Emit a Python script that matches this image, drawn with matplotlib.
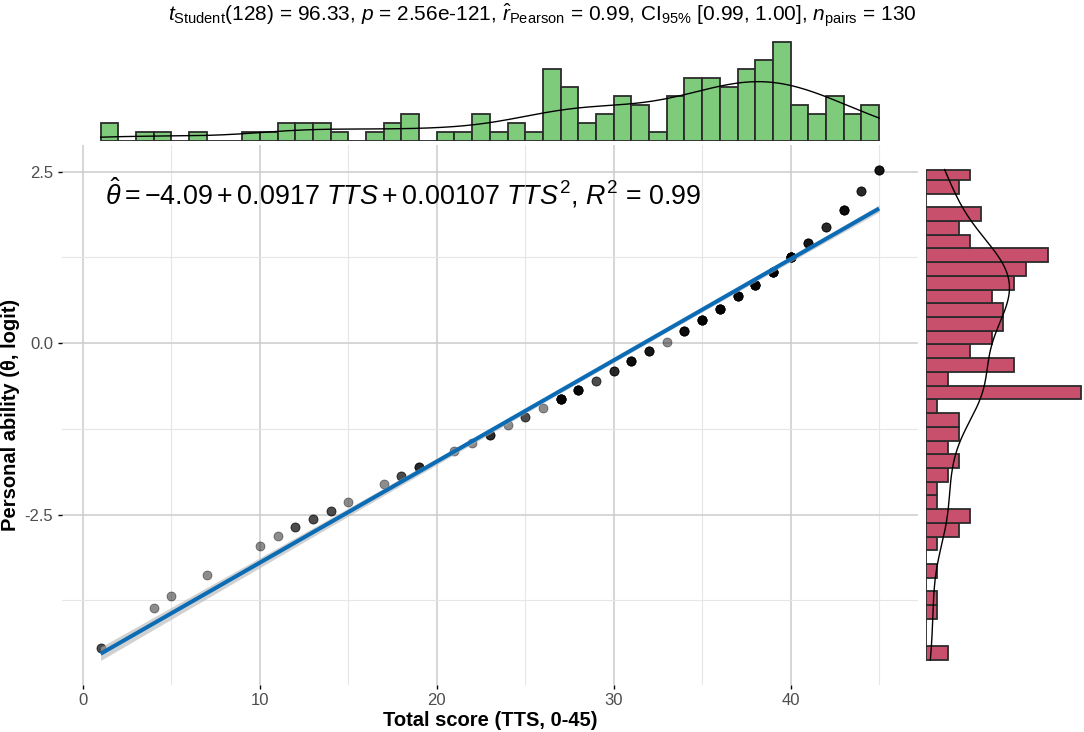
import numpy as np
import matplotlib
matplotlib.use('Agg')
import matplotlib.pyplot as plt

# total score, estimated person ability and number of persons with that score
tts_scores = [1, 4, 5, 7, 10, 11, 12, 13, 14, 15, 17, 18, 19, 21, 22, 23, 24, 25, 26,
              27, 28, 29, 30, 31, 32, 33, 34, 35, 36, 37, 38, 39, 40, 41, 42, 43, 44, 45]
theta_est = [-4.45, -3.86, -3.69, -3.38, -2.95, -2.81, -2.68, -2.56, -2.45, -2.31,
             -2.06, -1.93, -1.81, -1.57, -1.45, -1.34, -1.20, -1.08, -0.95,
             -0.81, -0.69, -0.55, -0.41, -0.26, -0.12, 0.02, 0.17, 0.34, 0.50,
             0.68, 0.85, 1.04, 1.25, 1.46, 1.69, 1.94, 2.22, 2.53]
n_people = [2, 1, 1, 1, 1, 1, 2, 2, 2, 1, 1, 2, 3, 1, 1, 3, 1, 2, 1,
            8, 6, 2, 3, 5, 4, 1, 5, 7, 7, 6, 8, 9, 11, 4, 3, 5, 3, 4]

title_txt = (r"$t_{\mathrm{Student}}$(128) = 96.33, $p$ = 2.56e-121, "
             r"$\hat{r}_{\mathrm{Pearson}}$ = 0.99, CI$_{\mathrm{95\%}}$ [0.99, 1.00], "
             r"$n_{\mathrm{pairs}}$ = 130")
eq_txt = (r"$\hat{\theta} = -4.09 + 0.0917\ TTS + 0.00107\ TTS^{2}$, $R^{2}$ = 0.99")

x_binwidth = 1.0
y_binwidth = 0.2
y_bin_start = -4.62

plt.rcParams['font.family'] = ['Liberation Sans', 'DejaVu Sans']
plt.rcParams['mathtext.fontset'] = 'custom'
plt.rcParams['mathtext.rm'] = 'Liberation Sans'
plt.rcParams['mathtext.it'] = 'Liberation Sans:italic'
plt.rcParams['mathtext.bf'] = 'Liberation Sans:bold'
plt.rcParams['axes.unicode_minus'] = False

GREEN = '#7fcb7c'
RED = '#c9506c'
EDGE = '#2b2b2b'


def kde(values, grid):
    # gaussian density with R's bw.nrd0
    n = len(values)
    sd = values.std(ddof=1)
    q75, q25 = np.percentile(values, [75, 25])
    bw = 0.9 * min(sd, (q75 - q25) / 1.34) * n ** -0.2
    z = (grid[:, None] - values[None, :]) / bw
    return np.exp(-0.5 * z ** 2).sum(axis=1) / (n * bw * np.sqrt(2 * np.pi))


x = np.repeat(tts_scores, n_people).astype(float)
y = np.repeat(theta_est, n_people).astype(float)
n = len(x)

# linear fit with 95% CI
slope, intercept = np.polyfit(x, y, 1)
xs = np.linspace(x.min(), x.max(), 200)
fit = intercept + slope * xs
resid = y - (intercept + slope * x)
s = np.sqrt((resid ** 2).sum() / (n - 2))
se = s * np.sqrt(1 / n + (xs - x.mean()) ** 2 / ((x - x.mean()) ** 2).sum())
ci_lo, ci_hi = fit - 1.979 * se, fit + 1.979 * se

fig = plt.figure(figsize=(10.84, 7.32), dpi=100)
ax = fig.add_axes([0.0569, 0.0642, 0.79, 0.7377])
ax_top = fig.add_axes([0.0569, 0.8074, 0.79, 0.1476])
ax_right = fig.add_axes([0.8542, 0.0642, 0.1458, 0.7377])

# main scatter
for sp in ax.spines.values():
    sp.set_visible(False)
ax.set_xticks([0, 10, 20, 30, 40])
ax.set_xticks([5, 15, 25, 35, 45], minor=True)
ax.set_yticks([-2.5, 0.0, 2.5])
ax.set_yticklabels(['-2.5', '0.0', '2.5'])
ax.set_yticks([-3.75, -1.25, 1.25], minor=True)
ax.grid(True, which='major', color='#cccccc', lw=1.1)
ax.grid(True, which='minor', color='#e6e6e6', lw=0.8)
ax.set_axisbelow(True)
ax.tick_params(which='major', length=3, width=1, color='black', labelsize=12,
               labelcolor='#4d4d4d', pad=3)
ax.tick_params(which='minor', length=0)

xr = x.max() - x.min()
ax.set_xlim(x.min() - 0.05 * xr, x.max() + 0.05 * xr)
ylo = min(y.min(), ci_lo.min())
yhi = max(y.max(), ci_hi.max())
yr = yhi - ylo
ax.set_ylim(ylo - 0.05 * yr, yhi + 0.05 * yr)

ax.scatter(x, y, s=42, c='black', alpha=0.45, edgecolors='black', linewidths=0.6, zorder=2)
ax.fill_between(xs, ci_lo, ci_hi, color='#b3b3b3', alpha=0.6, lw=0, zorder=3)
ax.plot(xs, fit, color='#0b6cb5', lw=2.9, zorder=4, solid_capstyle='butt')

ax.text(0.0506, 0.911, eq_txt, transform=ax.transAxes, fontsize=19.4, va='center', ha='left')
ax.set_xlabel('Total score (TTS, 0-45)', fontsize=14.5, fontweight='bold', labelpad=2)
ax.set_ylabel('Personal ability (θ, logit)', fontsize=14.5, fontweight='bold')
ax.yaxis.set_label_coords(-0.0485, 0.5)

# top marginal histogram
x_edges = np.arange(x.min(), x.max() + x_binwidth / 2, x_binwidth)
x_idx = np.clip(np.searchsorted(x_edges, x, side='left') - 1, 0, len(x_edges) - 2)
x_counts = np.bincount(x_idx, minlength=len(x_edges) - 1)
x_dens = x_counts / (n * x_binwidth)
ax_top.bar(x_edges[:-1], x_dens, width=np.diff(x_edges), align='edge',
           color=GREEN, edgecolor=EDGE, linewidth=1.3)
gx = np.linspace(x_edges[0], x_edges[-1], 300)
ax_top.plot(gx, kde(x, gx), color='black', lw=1.0)
ax_top.set_xlim(ax.get_xlim())
ax_top.set_ylim(0, x_dens.max() * 1.09)
ax_top.axis('off')

# right marginal histogram
y_edges = np.append(np.linspace(y_bin_start, y_bin_start + 35 * y_binwidth, 36), y.max())
y_counts, _ = np.histogram(y, bins=y_edges)
y_dens = y_counts / (n * y_binwidth)
ax_right.barh(y_edges[:-1], y_dens, height=np.diff(y_edges), align='edge',
              color=RED, edgecolor=EDGE, linewidth=1.3)
gy = np.linspace(y_edges[0], y_edges[-1], 300)
ax_right.plot(kde(y, gy), gy, color='black', lw=1.0)
ax_right.set_ylim(ax.get_ylim())
ax_right.set_xlim(0, y_dens.max() * 1.02)
ax_right.axis('off')

fig.text(0.5, 0.978, title_txt, ha='center', va='center', fontsize=15)

fig.savefig('out.png', dpi=100)
